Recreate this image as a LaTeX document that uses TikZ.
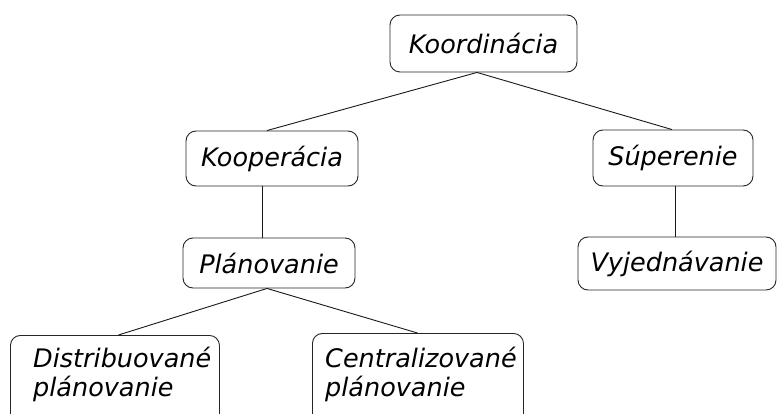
\documentclass[tikz,border=0pt]{standalone}
\usepackage{fontspec}
\setmainfont{DejaVu Sans}
\begin{document}
\begin{tikzpicture}[x=1pt,y=-1pt,
  box/.style={draw=black!85, line width=0.9pt, rounded corners=10pt, inner sep=0pt, fill=white,
    font=\fontsize{25.5}{29}\selectfont\itshape},
  txt/.style={inner sep=0pt, align=left, anchor=north west, font=\fontsize{25.5}{29}\selectfont\itshape},
  conn/.style={draw=black!90, line width=0.9pt}]
\useasboundingbox (0,0) rectangle (779,414);
\clip (0,0) rectangle (779,414);
\fill[white] (0,0) rectangle (779,414);
% nodes
\node[box, minimum width=187pt, minimum height=57pt] (koord) at (483.5,43.5) {Koordinácia};
\node[box, minimum width=172pt, minimum height=55pt] (koop) at (272,158.5) {Kooperácia};
\node[box, minimum width=160pt, minimum height=56pt] (sup) at (673,158) {Súperenie};
\node[box, minimum width=172pt, minimum height=50pt] (plan) at (269,263) {Plánovanie};
\node[box, minimum width=198pt, minimum height=53pt] (vyj) at (677,263.5) {Vyjednávanie};
\node[box, minimum width=209pt, minimum height=100pt, anchor=north west] (dist) at (10,335) {};
\node[txt] (distt) at (33,347) {Distribuované\\plánovanie};
\node[box, minimum width=211pt, minimum height=100pt, anchor=north west] (cent) at (312,333) {};
\node[txt] (centt) at (325,347) {Centralizované\\plánovanie};
% connectors
\coordinate (ka) at ([xshift=-6.5pt]koord.south);
\coordinate (pa) at ([xshift=-2pt]plan.south);
\draw[conn] (ka) -- ([xshift=-5pt]koop.north);
\draw[conn] (ka) -- ([xshift=-1pt]sup.north);
\draw[conn] ([xshift=-10pt]koop.south) -- ([xshift=-7pt]plan.north);
\draw[conn] ([xshift=2pt]sup.south) -- ([xshift=-2pt]vyj.north);
\draw[conn] (pa) -- ([xshift=3.5pt]dist.north);
\draw[conn] (pa) -- ([xshift=-0.5pt]cent.north);
\end{tikzpicture}
\end{document}
